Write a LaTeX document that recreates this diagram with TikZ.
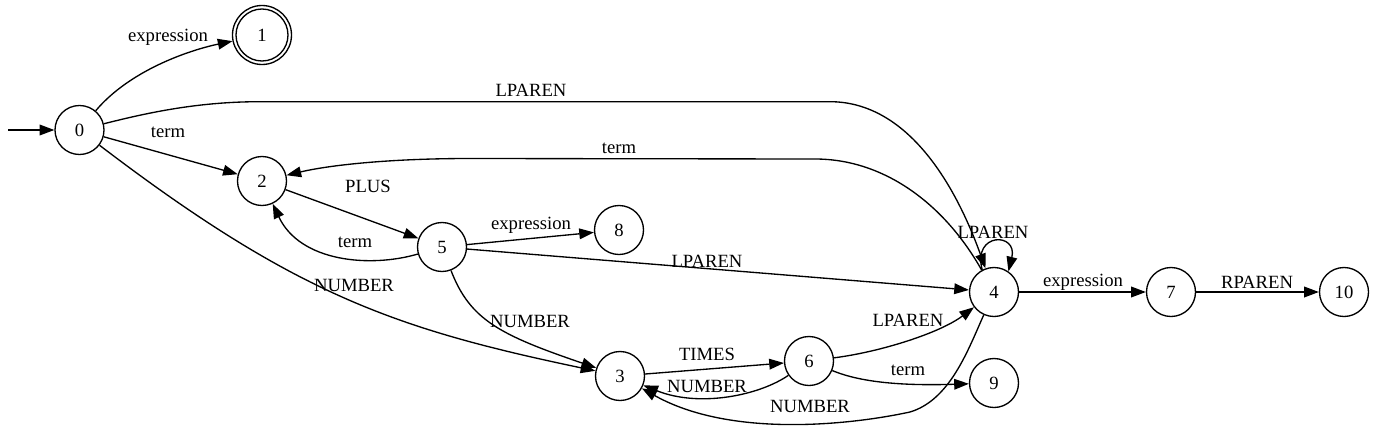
\documentclass[tikz,border=0pt]{standalone}
\usepackage{fontspec}
\setmainfont{Liberation Serif}
\usetikzlibrary{arrows.meta}
\begin{document}
\begin{tikzpicture}[x=0.75pt,y=-0.75pt,
  state/.style={circle,draw,line width=1pt,minimum size=36.75pt,inner sep=0pt,font=\fontsize{14pt}{16pt}\selectfont},
  lbl/.style={inner sep=0pt,font=\fontsize{14pt}{16pt}\selectfont},
  edge/.style={draw,line width=1pt,-{Triangle[length=11pt,width=8pt]}}]
\useasboundingbox (0,0) rectangle (1376,432);
% states
\node[state] (n0) at (79.5,130) {0};
\node[state,minimum size=44.25pt] (n1) at (262,35) {1};
\node[state,minimum size=39pt] (n1in) at (262,35) {};
\node[state] (n2) at (262,181) {2};
\node[state] (n3) at (620,376) {3};
\node[state] (n4) at (994,292) {4};
\node[state] (n5) at (442,247) {5};
\node[state] (n6) at (809,361) {6};
\node[state] (n7) at (1171,292) {7};
\node[state] (n8) at (619,230) {8};
\node[state] (n9) at (994,383) {9};
\node[state] (n10) at (1344,292) {10};
\coordinate (start) at (8,130);
% edges
\draw[edge] (start) -- (n0);
\draw[edge] (n0) .. controls (130,70) and (190,50) .. (n1);
\draw[edge] (n0) .. controls (150,112) and (200,101.7) .. (260,101.7) -- (830,101.7) .. controls (900,101.7) and (950,170) .. (n4);
\draw[edge] (n4) .. controls (945,205) and (885,159) .. (815,159) -- (470,158.5) .. controls (390,158.5) and (330,165) .. (n2);
\draw[edge] (n0) -- (n2);
\draw[edge] (n0) .. controls (296,295) and (396,329) .. (n3);
\draw[edge] (n2) -- (n5);
\draw[edge] (n5) .. controls (370,268) and (300,262) .. (n2);
\draw[edge] (n5) -- (n8);
\draw[edge] (n5) -- (n4);
\draw[edge] (n5) .. controls (470,320) and (500,335) .. (n3);
\draw[edge] (n4.118) .. controls (972,232) and (1018,232) .. (n4.55);
\draw[edge] (n4) -- (n7);
\draw[edge] (n7) -- (n10);
\draw[edge] (n3) -- (n6);
\draw[edge] (n6) .. controls (760,395) and (700,408) .. (n3);
\draw[edge] (n6) .. controls (880,352) and (940,333) .. (n4);
\draw[edge] (n6) .. controls (860,382) and (900,386) .. (n9);
\draw[edge] (n4) .. controls (968,350) and (950,400) .. (910,412) .. controls (850,425) and (730,438) .. (n3);
% labels
\node[lbl] (l01) at (168,37) {expression};
\node[lbl] (l04) at (531,90) {LPAREN};
\node[lbl] (l42) at (619,148) {term};
\node[lbl] (l02) at (168,132) {term};
\node[lbl] (l25) at (368,186) {PLUS};
\node[lbl] (l52) at (355,242) {term};
\node[lbl] (l58) at (531,225) {expression};
\node[lbl] (l54) at (707,261) {LPAREN};
\node[lbl] (l03) at (354,285) {NUMBER};
\node[lbl] (l53) at (530,321) {NUMBER};
\node[lbl] (l44) at (993,232) {LPAREN};
\node[lbl] (l47) at (1083,282) {expression};
\node[lbl] (l710) at (1257,282) {RPAREN};
\node[lbl] (l36) at (707,354) {TIMES};
\node[lbl] (l63) at (707,386) {NUMBER};
\node[lbl] (l64) at (908,320) {LPAREN};
\node[lbl] (l69) at (908,370) {term};
\node[lbl] (l43) at (810,406) {NUMBER};
\end{tikzpicture}
\end{document}
